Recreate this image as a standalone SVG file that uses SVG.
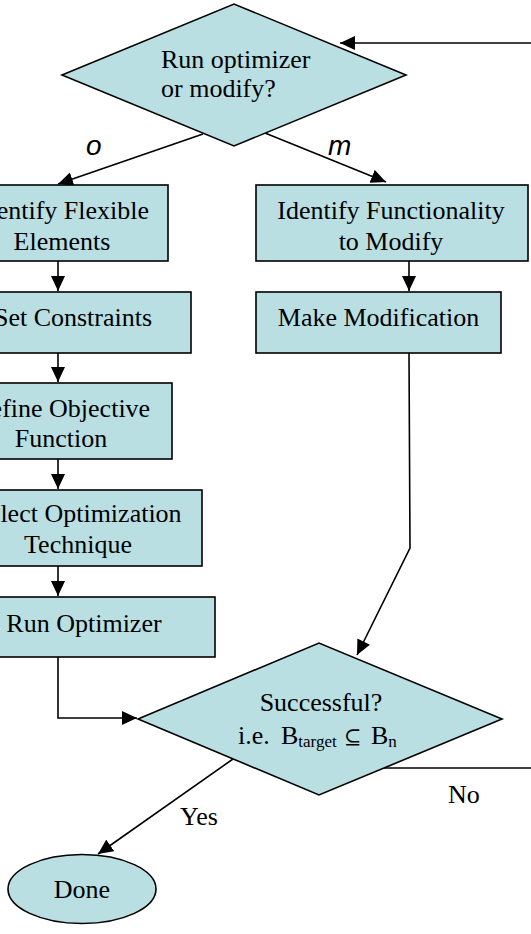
<svg xmlns="http://www.w3.org/2000/svg" width="531" height="934" viewBox="0 0 531 934">
<style>
.n{fill:#B9DFE3;stroke:#000;stroke-width:1.6}
.t{font-family:"Liberation Serif","Times New Roman",serif;font-size:26px;fill:#000}
.c{text-anchor:middle}
.lbl{font-family:"Liberation Sans",Arial,sans-serif;font-size:28px;font-style:italic;fill:#000}
.e{fill:none;stroke:#000;stroke-width:1.6}
.sub{font-size:17px}
</style>
<defs>
<marker id="ah" markerUnits="userSpaceOnUse" markerWidth="16" markerHeight="14" refX="15" refY="7" orient="auto">
<path d="M0,0 L15,7 L0,14 Z" fill="#000"/>
</marker>
</defs>
<rect width="531" height="934" fill="#fff"/>
<g id="connectors">
<path class="e" d="M531,43 L340,43" marker-end="url(#ah)"/>
<path class="e" d="M203,134 L58,184" marker-end="url(#ah)"/>
<path class="e" d="M265,133 L386,182" marker-end="url(#ah)"/>
<path class="e" d="M58,261 L58,291" marker-end="url(#ah)"/>
<path class="e" d="M58,353 L58,382" marker-end="url(#ah)"/>
<path class="e" d="M58,459 L58,489" marker-end="url(#ah)"/>
<path class="e" d="M58,566 L58,596" marker-end="url(#ah)"/>
<path class="e" d="M58,657 L58,718 L137,718" marker-end="url(#ah)"/>
<path class="e" d="M409,261 L409,291" marker-end="url(#ah)"/>
<path class="e" d="M409,353 L410,548 L357,655" marker-end="url(#ah)"/>
<path class="e" d="M233,759 L98,854" marker-end="url(#ah)"/>
<path class="e" d="M384,768 L531,768"/>
<text class="lbl" x="86" y="155">o</text>
<text class="lbl" x="328" y="155">m</text>
<text class="t" x="180" y="825">Yes</text>
<text class="t" x="448" y="803">No</text>
</g>
<g id="decision1">
<polygon class="n" points="62,75 234,4 406,75 234,146"/>
<text class="t" x="161" y="68">Run optimizer</text>
<text class="t" x="161" y="97">or modify?</text>
</g>
<g id="identifyFlexible">
<rect class="n" x="-45" y="185" width="213" height="76"/>
<text class="t c" x="62" y="218.5">Identify Flexible</text>
<text class="t c" x="62" y="249.5">Elements</text>
</g>
<g id="setConstraints">
<rect class="n" x="-45" y="292" width="236" height="61"/>
<text class="t c" x="73" y="326">Set Constraints</text>
</g>
<g id="defineObjective">
<rect class="n" x="-50" y="383" width="222" height="76"/>
<text class="t c" x="61" y="416.5">Define Objective</text>
<text class="t c" x="61" y="447">Function</text>
</g>
<g id="selectTechnique">
<rect class="n" x="-46" y="490" width="248" height="76"/>
<text class="t c" x="78" y="521.5">Select Optimization</text>
<text class="t c" x="78" y="553">Technique</text>
</g>
<g id="runOptimizer">
<rect class="n" x="-46" y="597" width="261" height="60"/>
<text class="t c" x="84" y="631.5">Run Optimizer</text>
</g>
<g id="identifyFunctionality">
<rect class="n" x="256" y="185" width="272" height="76"/>
<text class="t c" x="391" y="218.5">Identify Functionality</text>
<text class="t c" x="391" y="249.5">to Modify</text>
</g>
<g id="makeModification">
<rect class="n" x="256" y="292" width="245" height="61"/>
<text class="t c" x="378.5" y="326">Make Modification</text>
</g>
<g id="decision2">
<polygon class="n" points="138,719 319,643 502,719 319,795"/>
<text class="t c" x="321" y="711">Successful?</text>
<text class="t" y="744"><tspan x="238">i.e.</tspan><tspan x="281">B</tspan><tspan class="sub" dy="3">target</tspan><tspan x="344" dy="-3" font-family="'DejaVu Serif','Liberation Serif',serif" font-size="21">⊆</tspan><tspan x="371">B</tspan><tspan class="sub" dy="3">n</tspan></text>
</g>
<g id="done">
<ellipse class="n" cx="82" cy="889" rx="74" ry="34.5"/>
<text class="t c" x="82" y="898">Done</text>
</g>
</svg>
